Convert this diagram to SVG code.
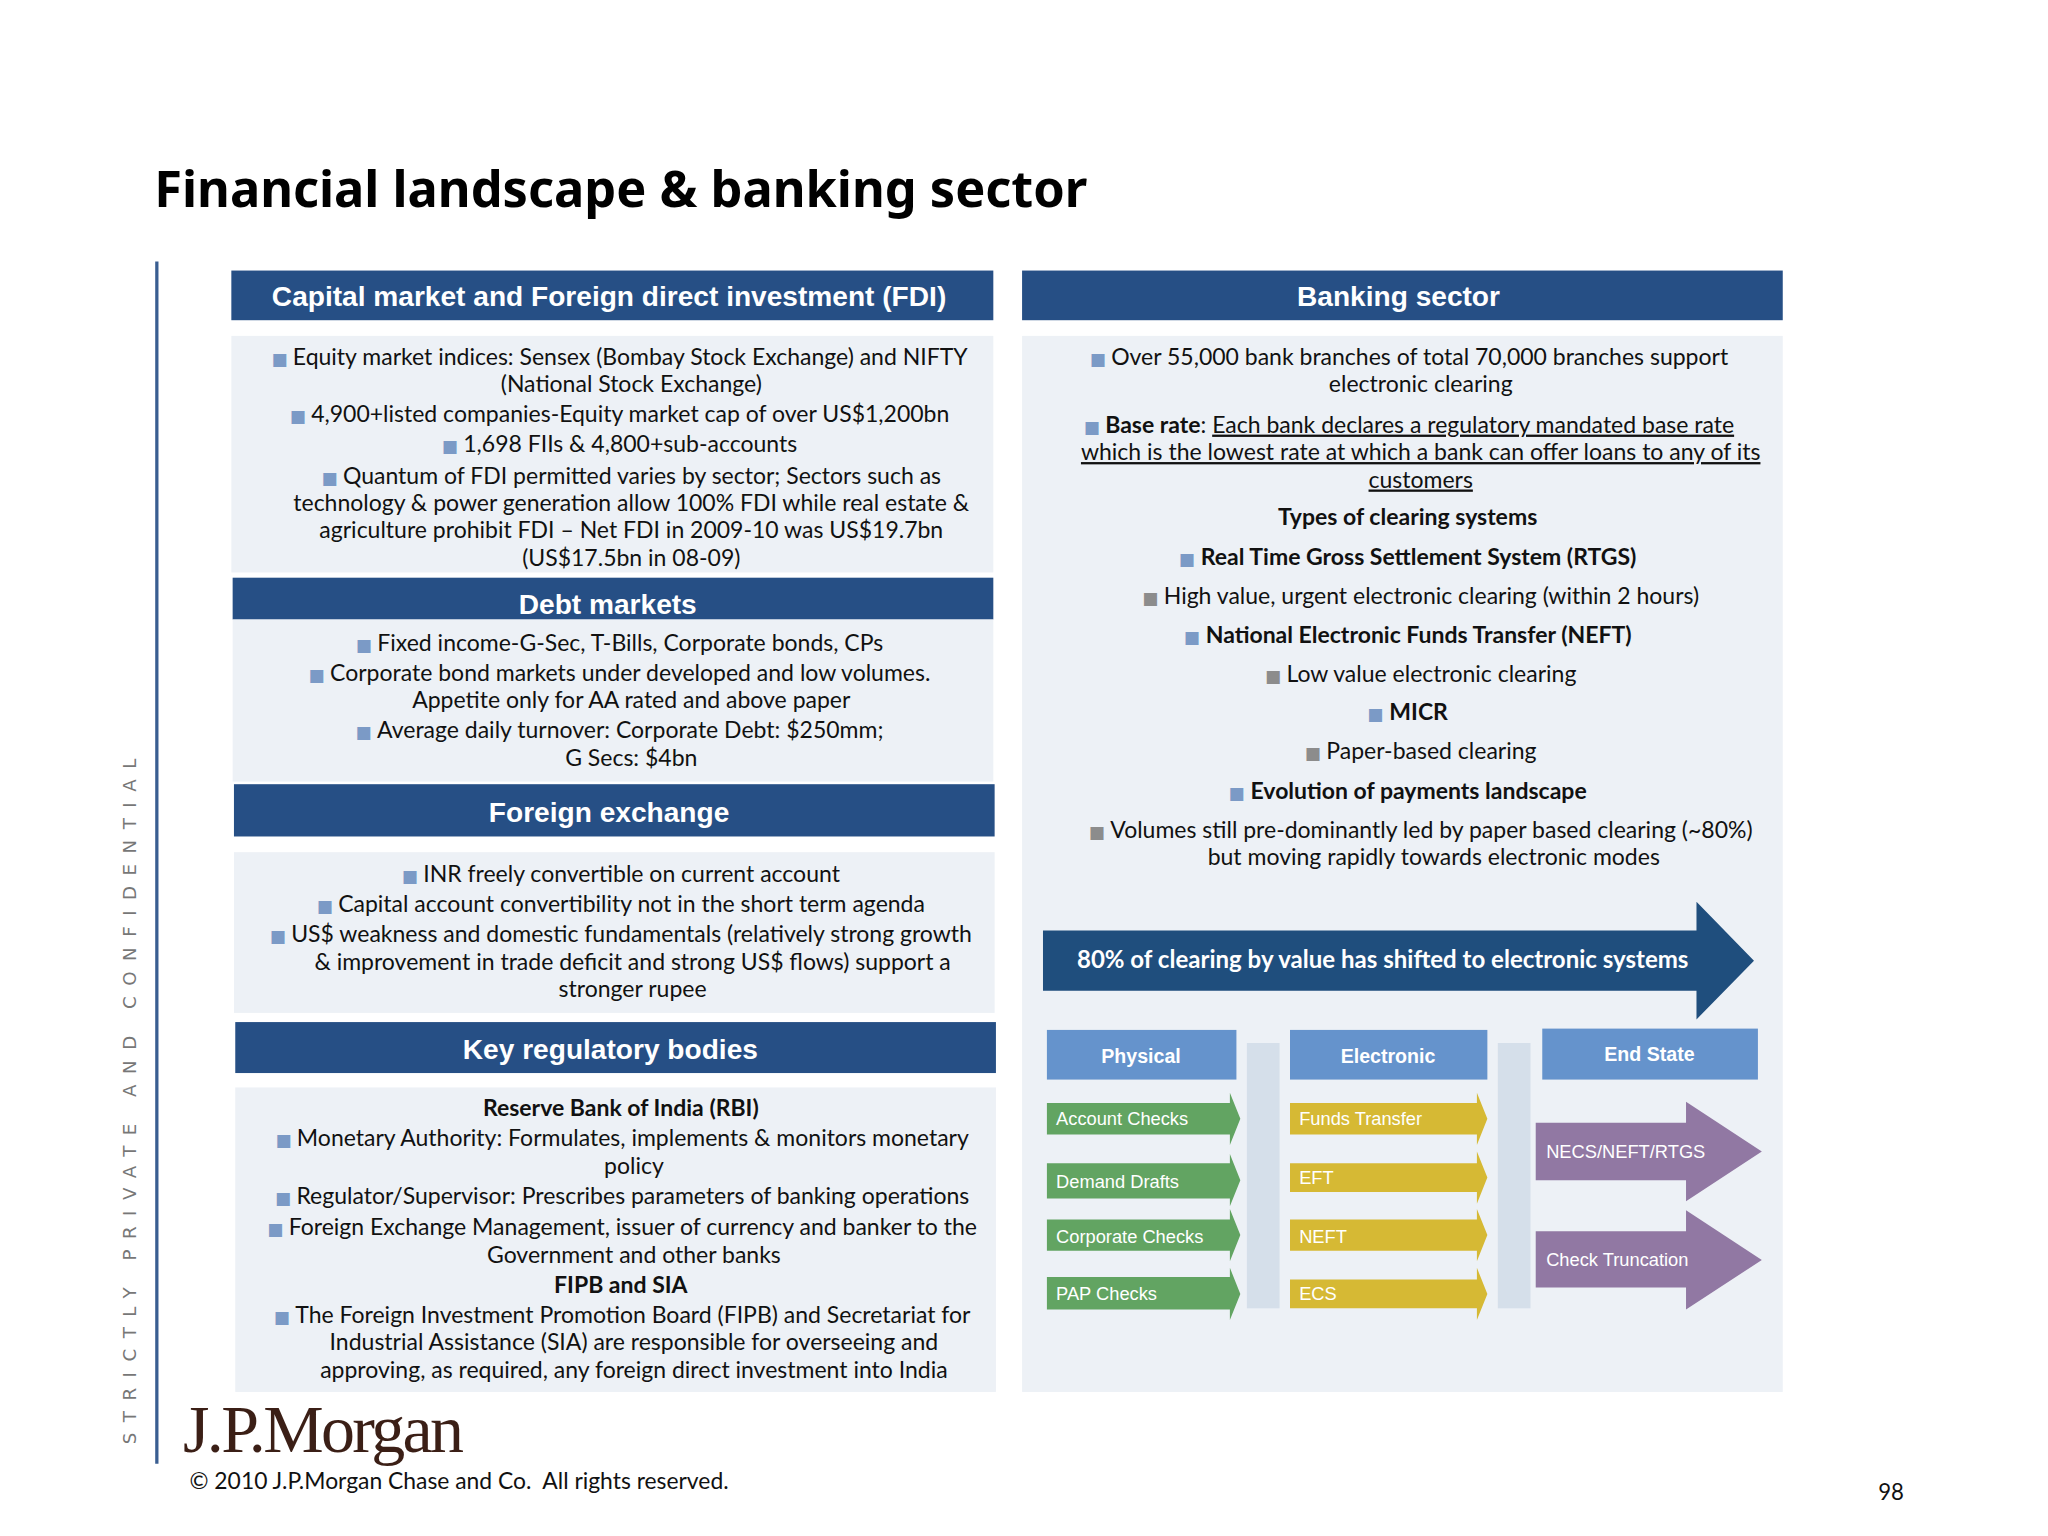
<svg xmlns="http://www.w3.org/2000/svg" width="2048" height="1536" viewBox="0 0 2048 1536">
<style>
.hd{fill:#264f85}
.bx{fill:#edf1f6}
.ht{font-family:"Liberation Sans",Arial,sans-serif;font-weight:bold;font-size:21.5px;fill:#fff;text-anchor:middle}
.t{font-family:Lato,"Noto Sans",sans-serif;font-size:17.6px;fill:#111;text-anchor:middle}
.b{font-weight:bold}
.bl{fill:#7b9ac6;font-family:"DejaVu Sans",sans-serif;font-size:13px}
.bg{fill:#8c8c8c;font-family:"DejaVu Sans",sans-serif;font-size:13px}
.u{text-decoration:underline}
.ft{font-family:"Liberation Sans",Arial,sans-serif;font-weight:bold;font-size:15px;fill:#fff;text-anchor:middle}
.at{font-family:"Liberation Sans",Arial,sans-serif;font-size:14px;fill:#fff}
.cb{fill:#6593cc}
.gr{fill:#62a462}
.ye{fill:#d6b934}
.pu{fill:#9178a3}
.gc{fill:#d5dfea}
</style>
<rect width="2048" height="1536" fill="#fff"/>
<g transform="scale(1.307)">
<g id="title"><text x="118" y="158" font-family="'Noto Sans',sans-serif" font-weight="bold" font-size="38" textLength="714" lengthAdjust="spacingAndGlyphs" fill="#000">Financial landscape &amp; banking sector</text></g>
<g id="sidebar">
<line x1="120" y1="200" x2="120" y2="1120" stroke="#3a5e91" stroke-width="2.5"/>
<text transform="translate(104,1105) rotate(-90)" font-family="'DejaVu Sans',sans-serif" font-size="14" letter-spacing="8" fill="#777">STRICTLY PRIVATE AND CONFIDENTIAL</text>
</g>
<g id="capital">
<rect class="hd" x="177" y="207" width="583" height="38"/>
<text class="ht" x="466" y="234">Capital market and Foreign direct investment (FDI)</text>
<rect class="bx" x="177" y="257" width="583" height="181"/>
<text class="t" x="474" y="279"><tspan class="bl">■ </tspan>Equity market indices: Sensex (Bombay Stock Exchange) and NIFTY</text>
<text class="t" x="483" y="300">(National Stock Exchange)</text>
<text class="t" x="474" y="323"><tspan class="bl">■ </tspan>4,900+listed companies-Equity market cap of over US$1,200bn</text>
<text class="t" x="474" y="346"><tspan class="bl">■ </tspan>1,698 FIIs &amp; 4,800+sub-accounts</text>
<text class="t" x="483" y="370"><tspan class="bl">■ </tspan>Quantum of FDI permitted varies by sector; Sectors such as</text>
<text class="t" x="483" y="391">technology &amp; power generation allow 100% FDI while real estate &amp;</text>
<text class="t" x="483" y="412">agriculture prohibit FDI – Net FDI in 2009-10 was US$19.7bn</text>
<text class="t" x="483" y="433">(US$17.5bn in 08-09)</text>
</g>
<g id="debt">
<rect class="hd" x="178" y="442" width="582" height="32"/>
<text class="ht" x="465" y="470">Debt markets</text>
<rect class="bx" x="178" y="474" width="582" height="124"/>
<text class="t" x="474" y="498"><tspan class="bl">■ </tspan>Fixed income-G-Sec, T-Bills, Corporate bonds, CPs</text>
<text class="t" x="474" y="521"><tspan class="bl">■ </tspan>Corporate bond markets under developed and low volumes.</text>
<text class="t" x="483" y="542">Appetite only for AA rated and above paper</text>
<text class="t" x="474" y="565"><tspan class="bl">■ </tspan>Average daily turnover: Corporate Debt: $250mm;</text>
<text class="t" x="483" y="586">G Secs: $4bn</text>
</g>
<g id="fx">
<rect class="hd" x="179" y="600" width="582" height="40"/>
<text class="ht" x="466" y="629">Foreign exchange</text>
<rect class="bx" x="179" y="652" width="582" height="123"/>
<text class="t" x="475" y="675"><tspan class="bl">■ </tspan>INR freely convertible on current account</text>
<text class="t" x="475" y="698"><tspan class="bl">■ </tspan>Capital account convertibility not in the short term agenda</text>
<text class="t" x="475" y="721"><tspan class="bl">■ </tspan>US$ weakness and domestic fundamentals (relatively strong growth</text>
<text class="t" x="484" y="742">&amp; improvement in trade deficit and strong US$ flows) support a</text>
<text class="t" x="484" y="763">stronger rupee</text>
</g>
<g id="regulatory">
<rect class="hd" x="180" y="782" width="582" height="39"/>
<text class="ht" x="467" y="810">Key regulatory bodies</text>
<rect class="bx" x="180" y="832" width="582" height="233"/>
<text class="t b" x="475" y="854">Reserve Bank of India (RBI)</text>
<text class="t" x="476" y="877"><tspan class="bl">■ </tspan>Monetary Authority: Formulates, implements &amp; monitors monetary</text>
<text class="t" x="485" y="898">policy</text>
<text class="t" x="476" y="921"><tspan class="bl">■ </tspan>Regulator/Supervisor: Prescribes parameters of banking operations</text>
<text class="t" x="476" y="945"><tspan class="bl">■ </tspan>Foreign Exchange Management, issuer of currency and banker to the</text>
<text class="t" x="485" y="966">Government and other banks</text>
<text class="t b" x="475" y="989">FIPB and SIA</text>
<text class="t" x="476" y="1012"><tspan class="bl">■ </tspan>The Foreign Investment Promotion Board (FIPB) and Secretariat for</text>
<text class="t" x="485" y="1033">Industrial Assistance (SIA) are responsible for overseeing and</text>
<text class="t" x="485" y="1054">approving, as required, any foreign direct investment into India</text>
</g>
<g id="banking">
<rect class="hd" x="782" y="207" width="582" height="38"/>
<text class="ht" x="1070" y="234">Banking sector</text>
<rect class="bx" x="782" y="257" width="582" height="808"/>
<text class="t" x="1078" y="279"><tspan class="bl">■ </tspan>Over 55,000 bank branches of total 70,000 branches support</text>
<text class="t" x="1087" y="300">electronic clearing</text>
<text class="t" x="1078" y="331"><tspan class="bl">■ </tspan><tspan class="b">Base rate</tspan>: <tspan class="u">Each bank declares a regulatory mandated base rate</tspan></text>
<text class="t u" x="1087" y="352">which is the lowest rate at which a bank can offer loans to any of its</text>
<text class="t u" x="1087" y="373">customers</text>
<text class="t b" x="1077" y="402">Types of clearing systems</text>
<text class="t b" x="1077" y="432"><tspan class="bl">■ </tspan>Real Time Gross Settlement System (RTGS)</text>
<text class="t" x="1087" y="462"><tspan class="bg">■ </tspan>High value, urgent electronic clearing (within 2 hours)</text>
<text class="t b" x="1077" y="492"><tspan class="bl">■ </tspan>National Electronic Funds Transfer (NEFT)</text>
<text class="t" x="1087" y="522"><tspan class="bg">■ </tspan>Low value electronic clearing</text>
<text class="t b" x="1077" y="551"><tspan class="bl">■ </tspan>MICR</text>
<text class="t" x="1087" y="581"><tspan class="bg">■ </tspan>Paper-based clearing</text>
<text class="t b" x="1077" y="611"><tspan class="bl">■ </tspan>Evolution of payments landscape</text>
<text class="t" x="1087" y="641"><tspan class="bg">■ </tspan>Volumes still pre-dominantly led by paper based clearing (~80%)</text>
<text class="t" x="1097" y="662">but moving rapidly towards electronic modes</text>
</g>
<g id="shift-arrow">
<polygon points="798,712 1298,712 1298,690 1342,735 1298,780 1298,758 798,758" fill="#1f4e7d"/>
<text x="824" y="741" font-family="Lato,'Noto Sans',sans-serif" font-weight="bold" font-size="18.4" fill="#fff">80% of clearing by value has shifted to electronic systems</text>
</g>
<g id="flow-headers">
<rect class="cb" x="801" y="788" width="145" height="38"/><text class="ft" x="873" y="813">Physical</text>
<rect class="cb" x="987" y="788" width="151" height="38"/><text class="ft" x="1062" y="813">Electronic</text>
<rect class="cb" x="1180" y="787" width="165" height="39"/><text class="ft" x="1262" y="812">End State</text>
<rect class="gc" x="954" y="798" width="25" height="203"/>
<rect class="gc" x="1146" y="798" width="25" height="203"/>
</g>
<g id="physical">
<polygon class="gr" points="801,844 941,844 941,836 949,856 941,876 941,868 801,868"/><text class="at" x="808" y="861">Account Checks</text>
<polygon class="gr" points="801,890 941,890 941,883 949,903 941,923 941,917 801,917"/><text class="at" x="808" y="909">Demand Drafts</text>
<polygon class="gr" points="801,933 941,933 941,925 949,945 941,965 941,957 801,957"/><text class="at" x="808" y="951">Corporate Checks</text>
<polygon class="gr" points="801,977 941,977 941,970 949,990 941,1010 941,1002 801,1002"/><text class="at" x="808" y="995">PAP Checks</text>
</g>
<g id="electronic">
<polygon class="ye" points="987,844 1130,844 1130,836 1138,856 1130,876 1130,868 987,868"/><text class="at" x="994" y="861">Funds Transfer</text>
<polygon class="ye" points="987,890 1130,890 1130,881 1138,901 1130,921 1130,912 987,912"/><text class="at" x="994" y="906">EFT</text>
<polygon class="ye" points="987,933 1130,933 1130,925 1138,945 1130,965 1130,957 987,957"/><text class="at" x="994" y="951">NEFT</text>
<polygon class="ye" points="987,979 1130,979 1130,970 1138,990 1130,1010 1130,1001 987,1001"/><text class="at" x="994" y="995">ECS</text>
</g>
<g id="endstate">
<polygon class="pu" points="1175,859 1290,859 1290,843 1348,881 1290,919 1290,903 1175,903"/><text class="at" x="1183" y="886">NECS/NEFT/RTGS</text>
<polygon class="pu" points="1175,942 1290,942 1290,926 1348,964 1290,1002 1290,985 1175,985"/><text class="at" x="1183" y="969">Check Truncation</text>
</g>
<g id="footer">
<text x="140" y="1111" font-family="'Liberation Serif',serif" font-size="52" fill="#3b1f16" letter-spacing="-2">J.P.Morgan</text>
<text x="145" y="1139" font-family="Lato,'Noto Sans',sans-serif" font-size="17.5" fill="#111" xml:space="preserve">© 2010 J.P.Morgan Chase and Co.  All rights reserved.</text>
<text x="1437" y="1148" font-family="Lato,'Noto Sans',sans-serif" font-size="17" fill="#111">98</text>
</g>
</g>
</svg>
